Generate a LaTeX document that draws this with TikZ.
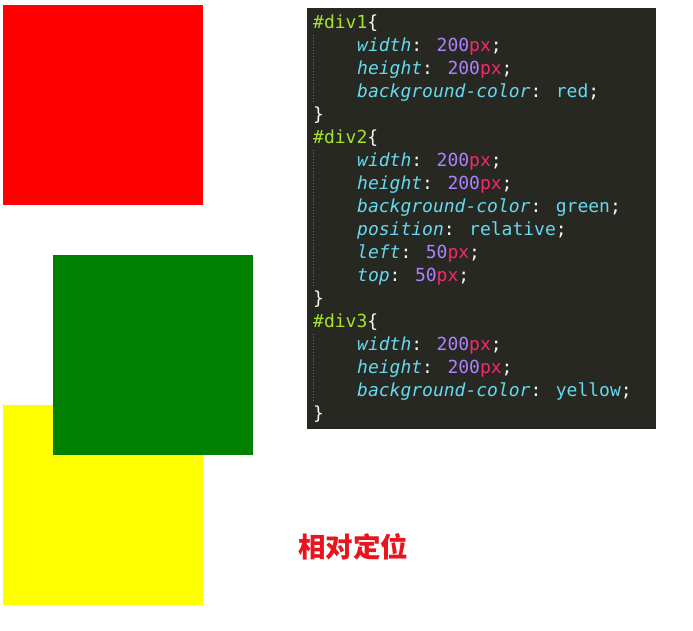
\documentclass[tikz,border=0pt]{standalone}
\usepackage{fontspec}
\usetikzlibrary{positioning}
\newfontfamily\cjk{Noto Sans CJK SC}
\newfontfamily\codefont{DejaVu Sans Mono}
\definecolor{panelbg}{HTML}{272822}
\definecolor{selgreen}{HTML}{A6E22E}
\definecolor{propcyan}{HTML}{66D9EF}
\definecolor{numpurple}{HTML}{AE81FF}
\definecolor{unitpink}{HTML}{F92672}
\definecolor{plainwhite}{HTML}{F8F8F2}
\definecolor{titlered}{HTML}{E8141E}
\newcommand{\pname}[1]{\textcolor{propcyan}{\itshape #1}\textcolor{plainwhite}{:} }
\newcommand{\pnum}[1]{\textcolor{numpurple}{#1}\textcolor{unitpink}{px}\textcolor{plainwhite}{;}}
\newcommand{\pval}[1]{\textcolor{propcyan}{#1}\textcolor{plainwhite}{;}}
\tikzset{
  divbox/.style={minimum width=200pt, minimum height=200pt, inner sep=0pt, anchor=north west},
  codeline/.style={anchor=base west, inner sep=0pt, font=\codefont\fontsize{18}{18}\selectfont},
  guide/.style={plainwhite!35!panelbg, dotted, line width=1pt}
}
\begin{document}
\begin{tikzpicture}[x=1pt,y=-1pt]
\useasboundingbox (0,0) rectangle (693,630);

% the three boxes
\node[divbox, fill=red] (div1) at (3,5) {};
\node[divbox, fill={rgb,255:red,255;green,255;blue,0}] (div3) at (3,405) {};
\node[divbox, fill={rgb,255:red,0;green,128;blue,0}] (div2) at (53,255) {};

% code panel
\fill[panelbg] (307,8) rectangle (656,429);
\draw[guide] (313,35) -- (313,103);
\draw[guide] (313,150) -- (313,287);
\draw[guide] (313,334) -- (313,402);

\node[codeline] (l1) at (313,28) {\textcolor{selgreen}{\#div1}\textcolor{plainwhite}{\{}};
\node[codeline] (l2) at (357,51) {\pname{width}\pnum{200}};
\node[codeline] (l3) at (357,74) {\pname{height}\pnum{200}};
\node[codeline] (l4) at (357,97) {\pname{background-color}\pval{red}};
\node[codeline] (l5) at (313,120) {\textcolor{plainwhite}{\}}};
\node[codeline] (l6) at (313,143) {\textcolor{selgreen}{\#div2}\textcolor{plainwhite}{\{}};
\node[codeline] (l7) at (357,166) {\pname{width}\pnum{200}};
\node[codeline] (l8) at (357,189) {\pname{height}\pnum{200}};
\node[codeline] (l9) at (357,212) {\pname{background-color}\pval{green}};
\node[codeline] (l10) at (357,235) {\pname{position}\pval{relative}};
\node[codeline] (l11) at (357,258) {\pname{left}\pnum{50}};
\node[codeline] (l12) at (357,281) {\pname{top}\pnum{50}};
\node[codeline] (l13) at (313,304) {\textcolor{plainwhite}{\}}};
\node[codeline] (l14) at (313,327) {\textcolor{selgreen}{\#div3}\textcolor{plainwhite}{\{}};
\node[codeline] (l15) at (357,350) {\pname{width}\pnum{200}};
\node[codeline] (l16) at (357,373) {\pname{height}\pnum{200}};
\node[codeline] (l17) at (357,396) {\pname{background-color}\pval{yellow}};
\node[codeline] (l18) at (313,419) {\textcolor{plainwhite}{\}}};

% caption
\node[text=titlered, font=\cjk\bfseries\fontsize{27.5}{27.5}\selectfont, inner sep=0pt] (title) at (353,547) {相对定位};
\end{tikzpicture}
\end{document}
